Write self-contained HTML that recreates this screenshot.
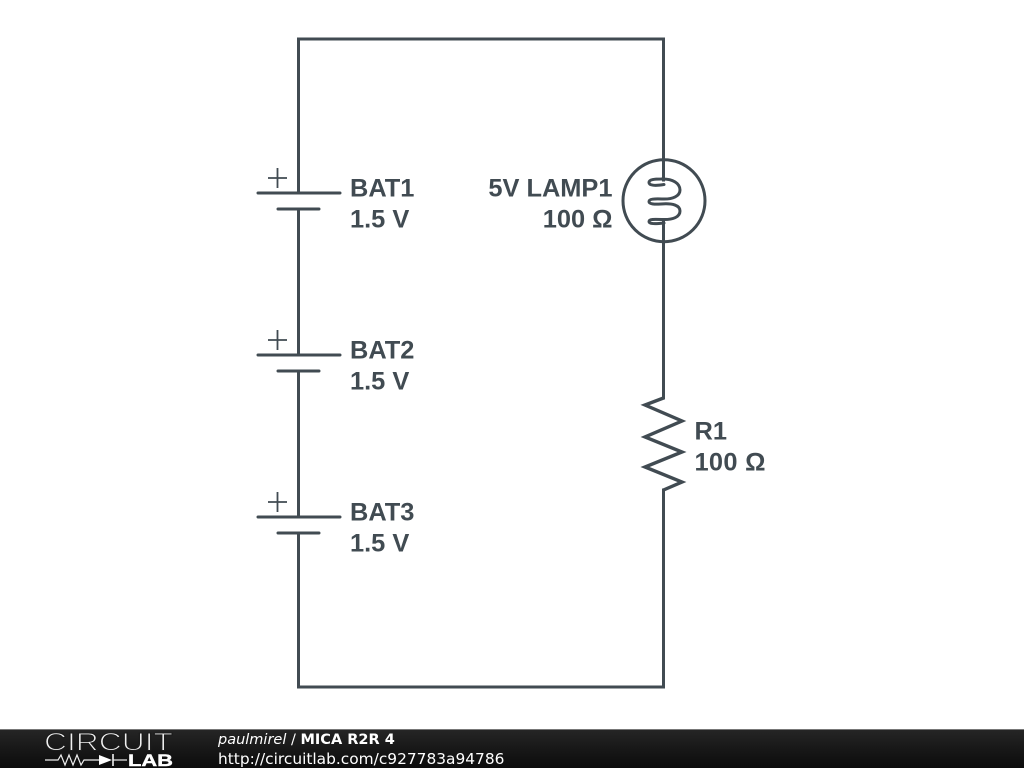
<!DOCTYPE html>
<html>
<head>
<meta charset="utf-8">
<style>
html,body{margin:0;padding:0;background:#fff;width:1024px;height:768px;overflow:hidden}
svg{display:block}
</style>
</head>
<body>
<svg width="1024" height="768" viewBox="0 0 1024 768" xmlns="http://www.w3.org/2000/svg">
<defs>
<linearGradient id="bar" x1="0" y1="0" x2="0" y2="1">
<stop offset="0" stop-color="#262626"/>
<stop offset="0.5" stop-color="#181818"/>
<stop offset="1" stop-color="#0c0c0c"/>
</linearGradient>
</defs>
<rect width="1024" height="768" fill="#fff"/>
<g fill="none" stroke="#414b52" stroke-width="3" stroke-linejoin="miter" stroke-linecap="square">
<path d="M298.5 178V39H663.5V180"/>
<path d="M663.5 220V398"/>
<path d="M663.5 490V687H298.5V533"/>
<path d="M298.5 517V371"/>
<path d="M298.5 355V209"/>
</g>
<g fill="none" stroke="#414b52" stroke-width="3" stroke-linecap="round">
<path d="M298.5 193V165"/>
<path d="M258 193H340M278 209H319"/>
<path d="M258 355H340M278 371H319"/>
<path d="M258 517H340M278 533H319"/>
<circle cx="664" cy="200.7" r="41"/>
<path d="M664 184.5C655 186 649 185.5 649 182.5C649 179.5 655 179 661 179C673 178.5 680 183.5 680 190C680 196 673 199.5 662 199C654 198.7 649 199 649 201.5C649 204 654 204.5 661 204C673 203 680 205.5 680 211C680 217 673 220 662 219.5C654 219.2 649 219 649 221.5C649 224 655 224 664 223"/>
<path d="M663.5 223V242"/>
<path d="M663.5 160V180"/>
</g>
<g fill="none" stroke="#414b52" stroke-width="1.8" stroke-linecap="butt">
<path d="M268 178H287M277.5 168V188"/>
<path d="M268 340H287M277.5 330V350"/>
<path d="M268 502H287M277.5 492V512"/>
</g>
<path d="M663.5 398L645 405L682 421L645 437L682 452L645 467L682 482L663.5 490" fill="none" stroke="#414b52" stroke-width="3.4" stroke-linejoin="miter"/>
<g font-family="'Liberation Sans',sans-serif" font-weight="700" font-size="25.4" fill="#414b52">
<text x="350" y="196.7">BAT1</text>
<text x="350" y="227.7">1.5 V</text>
<text x="350" y="358.7">BAT2</text>
<text x="350" y="389.7">1.5 V</text>
<text x="350" y="520.7">BAT3</text>
<text x="350" y="551.7">1.5 V</text>
<text x="612.5" y="196.7" text-anchor="end">5V LAMP1</text>
<text x="612.5" y="227.7" text-anchor="end">100 Ω</text>
<text x="694.5" y="439.7">R1</text>
<text x="694.5" y="470.7" textLength="71">100 Ω</text>
</g>
<rect x="0" y="729" width="1024" height="39" fill="url(#bar)"/>
<rect x="0" y="729" width="1024" height="1" fill="#777"/>
<text x="44" y="750.5" font-family="'Liberation Sans',sans-serif" font-size="25" fill="#f0f0f0" stroke="#1c1c1c" stroke-width="1.1" textLength="129" lengthAdjust="spacingAndGlyphs">CIRCUIT</text>
<path d="M45 760H58L61 755L65 765L69 755L73 765L77 755L81 765L84 760H99" fill="none" stroke="#eee" stroke-width="1.2"/>
<path d="M99 755L112 760L99 765Z" fill="#fff"/>
<path d="M113 754V766" stroke="#fff" stroke-width="1.5"/>
<path d="M113 760H127" stroke="#eee" stroke-width="1.2"/>
<text x="128" y="766" font-family="'Liberation Sans',sans-serif" font-weight="700" font-size="17" fill="#fff" stroke="#fff" stroke-width="0.4" textLength="45" lengthAdjust="spacingAndGlyphs">LAB</text>
<text x="218" y="744" font-family="'DejaVu Sans',sans-serif" font-size="14.5" fill="#fff"><tspan font-style="italic">paulmirel</tspan> / <tspan font-weight="700">MICA R2R 4</tspan></text>
<text x="218" y="764" font-family="'DejaVu Sans',sans-serif" font-size="15.4" fill="#fff">http://circuitlab.com/c927783a94786</text>
</svg>
</body>
</html>
